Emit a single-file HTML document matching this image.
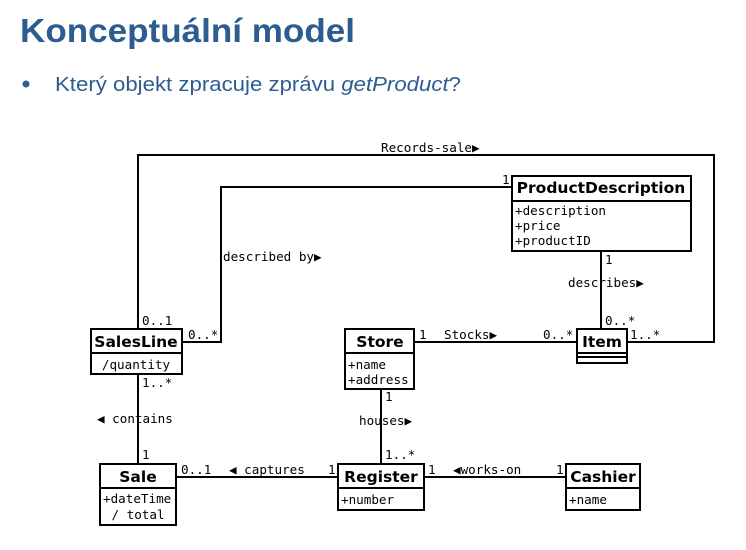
<!DOCTYPE html>
<html><head><meta charset="utf-8"><style>
html,body{margin:0;padding:0;background:#fff;width:746px;height:550px;overflow:hidden}
svg{display:block}
.m{font-family:"DejaVu Sans Mono","Liberation Mono",monospace;font-size:12.6px;fill:#000}
.b{font-family:"DejaVu Sans","Liberation Sans",sans-serif;font-weight:bold;font-size:15.5px;fill:#000}
</style></head><body>
<svg width="746" height="550" xmlns="http://www.w3.org/2000/svg">
<text x="20" y="42" font-family="Liberation Sans,sans-serif" font-weight="bold" font-size="33" fill="#2d5c91" textLength="335" lengthAdjust="spacingAndGlyphs">Konceptuální model</text>
<circle cx="26" cy="84" r="3.5" fill="#2d5c91"/>
<text x="55" y="91" font-family="Liberation Sans,sans-serif" font-size="20" fill="#2d5c91" textLength="406" lengthAdjust="spacingAndGlyphs">Který objekt zpracuje zprávu <tspan font-style="italic">getProduct</tspan>?</text>
<g fill="none" stroke="#000" stroke-width="2">
<polyline points="138,329 138,155 714,155 714,342 627,342"/>
<polyline points="512,187 221,187 221,342 182,342"/>
<line x1="414" y1="342" x2="577" y2="342"/>
<line x1="601" y1="251" x2="601" y2="329"/>
<line x1="381" y1="389" x2="381" y2="464"/>
<line x1="138" y1="374" x2="138" y2="464"/>
<line x1="176" y1="477" x2="338" y2="477"/>
<line x1="424" y1="477" x2="566" y2="477"/>
<rect x="91" y="329" width="91" height="45" fill="#fff"/><line x1="91" y1="353" x2="182" y2="353"/>
<rect x="512" y="176" width="179" height="75" fill="#fff"/><line x1="512" y1="201" x2="691" y2="201"/>
<rect x="345" y="329" width="69" height="60" fill="#fff"/><line x1="345" y1="353" x2="414" y2="353"/>
<rect x="577" y="329" width="50" height="34" fill="#fff"/><line x1="577" y1="353" x2="627" y2="353"/><line x1="577" y1="357" x2="627" y2="357"/>
<rect x="100" y="464" width="76" height="61" fill="#fff"/><line x1="100" y1="488" x2="176" y2="488"/>
<rect x="338" y="464" width="86" height="46" fill="#fff"/><line x1="338" y1="488" x2="424" y2="488"/>
<rect x="566" y="464" width="74" height="46" fill="#fff"/><line x1="566" y1="488" x2="640" y2="488"/>
</g>
<text class="b" x="136" y="347" text-anchor="middle">SalesLine</text>
<text class="m" x="136" y="369" text-anchor="middle">/quantity</text>
<text class="b" x="601" y="193" text-anchor="middle">ProductDescription</text>
<text class="m" x="515" y="215">+description</text>
<text class="m" x="515" y="230">+price</text>
<text class="m" x="515" y="245">+productID</text>
<text class="b" x="380" y="347" text-anchor="middle">Store</text>
<text class="m" x="348" y="369">+name</text>
<text class="m" x="348" y="384">+address</text>
<text class="b" x="602" y="347" text-anchor="middle">Item</text>
<text class="b" x="138" y="482" text-anchor="middle">Sale</text>
<text class="m" x="103" y="503">+dateTime</text>
<text class="m" x="138" y="519" text-anchor="middle">/ total</text>
<text class="b" x="381" y="482" text-anchor="middle">Register</text>
<text class="m" x="341" y="504">+number</text>
<text class="b" x="603" y="482" text-anchor="middle">Cashier</text>
<text class="m" x="569" y="504">+name</text>
<text class="m" x="381" y="152">Records-sale▶</text>
<text class="m" x="502" y="184">1</text>
<text class="m" x="223" y="261">described by▶</text>
<text class="m" x="568" y="287">describes▶</text>
<text class="m" x="605" y="264">1</text>
<text class="m" x="605" y="325">0..*</text>
<text class="m" x="142" y="325">0..1</text>
<text class="m" x="188" y="339">0..*</text>
<text class="m" x="419" y="339">1</text>
<text class="m" x="444" y="339">Stocks▶</text>
<text class="m" x="543" y="339">0..*</text>
<text class="m" x="630" y="339">1..*</text>
<text class="m" x="142" y="387">1..*</text>
<text class="m" x="97" y="423">◀ contains</text>
<text class="m" x="142" y="459">1</text>
<text class="m" x="385" y="401">1</text>
<text class="m" x="359" y="425">houses▶</text>
<text class="m" x="385" y="459">1..*</text>
<text class="m" x="181" y="474">0..1</text>
<text class="m" x="229" y="474">◀ captures</text>
<text class="m" x="328" y="474">1</text>
<text class="m" x="428" y="474">1</text>
<text class="m" x="453" y="474">◀works-on</text>
<text class="m" x="556" y="474">1</text>
</svg>
</body></html>
